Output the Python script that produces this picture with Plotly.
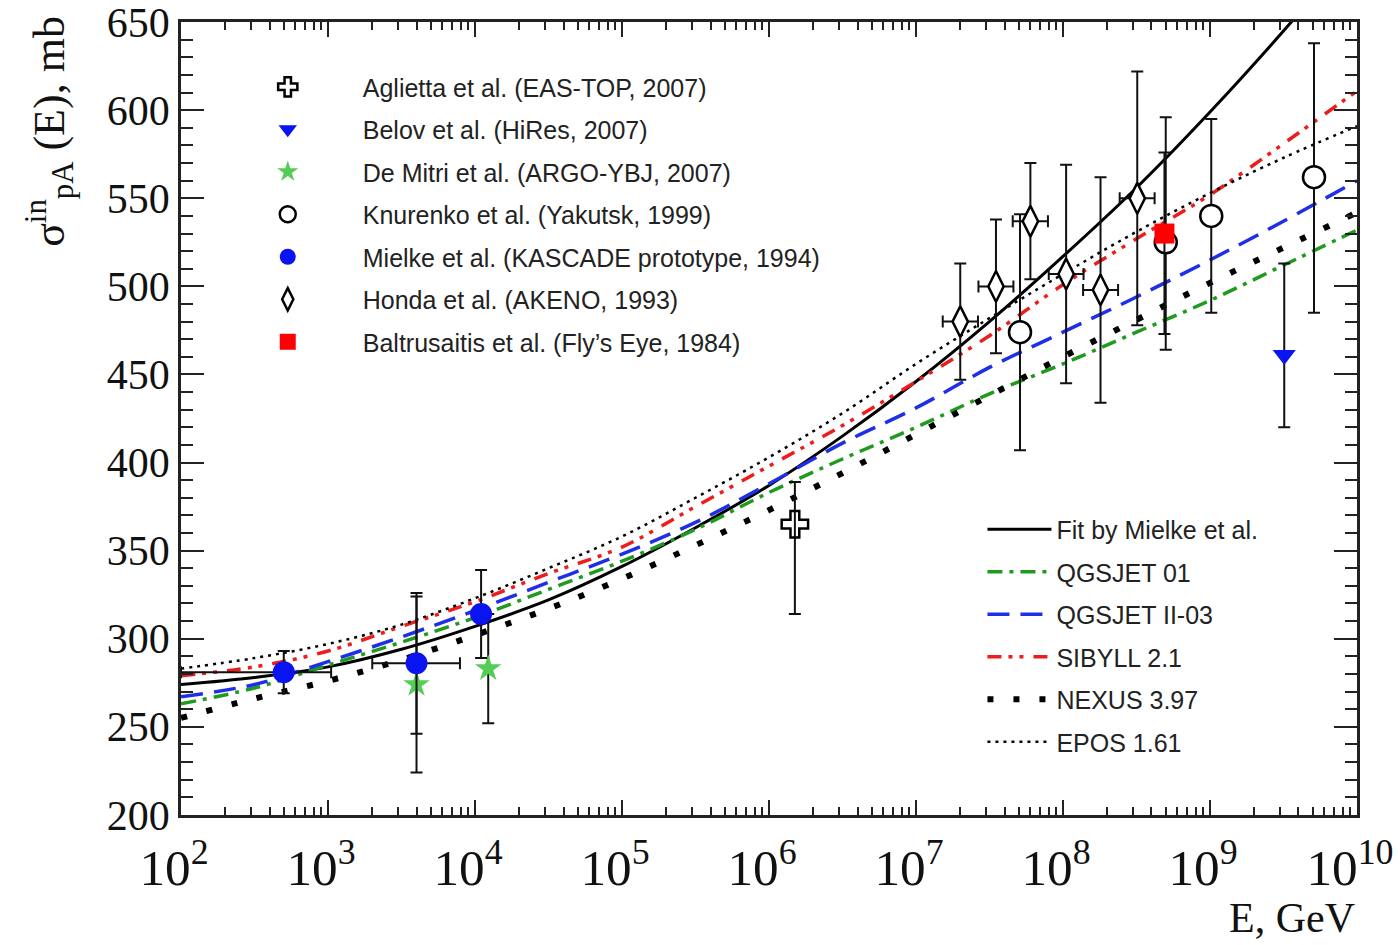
import plotly.graph_objects as go

# ---------------- data ----------------
E_grid = [1e2, 3.16e2, 1e3, 3.16e3, 1e4, 3.16e4, 1e5, 3.16e5, 1e6,
          3.16e6, 1e7, 3.16e7, 1e8, 3.16e8, 1e9, 3.16e9, 1e10]
fit_mielke = [274, 278, 284, 294, 307, 322, 341, 363, 387, 415, 446, 480, 517, 556, 599, 645, 694]
qgsjet01   = [263, 272, 285, 298, 312, 328, 344, 362, 383, 402, 420, 439, 456, 474, 492, 512, 532]
qgsjetII   = [267, 274, 287, 301, 316, 332, 348, 366, 388, 411, 431, 454, 474, 494, 515, 537, 560]
sibyll     = [279, 284, 293, 307, 321, 337, 352, 375, 398, 421, 446, 472, 501, 527, 552, 581, 611]
nexus      = [255, 266, 276, 288, 302, 317, 334, 353, 373, 394, 416, 438, 460, 481, 502, 522, 542]
epos       = [283, 289, 297, 308, 323, 340, 358, 380, 403, 428, 456, 482, 507, 531, 553, 573, 591]

# Aglietta et al. (EAS-TOP, 2007)
eastop_E = [1.5e6]
eastop_s = [365]
eastop_up = [24]
eastop_dn = [51]

# Belov et al. (HiRes, 2007)
hires_E = [3.2e9]
hires_s = [461]
hires_up = [52]
hires_dn = [41]

# De Mitri et al. (ARGO-YBJ, 2007)
argo_E = [4.0e3, 1.23e4]
argo_s = [274, 283]
argo_up = [50, 31]
argo_dn = [50, 31]

# Knurenko et al. (Yakutsk, 1999)
yak_E = [5.1e7, 5.0e8, 1.02e9, 5.1e9]
yak_s = [474, 525, 540, 562]
yak_up = [67, 71, 55, 76]
yak_dn = [67, 61, 55, 77]

# Mielke et al. (KASCADE prototype, 1994)
kas_E = [5.0e2, 4.0e3, 1.1e4]
kas_s = [281, 286, 314]
kas_up = [12, 40, 25]
kas_dn = [12, 40, 25]
kas_Eup = [550, 3900, 0]
kas_Edn = [400, 2000, 0]

# Honda et al. (AKENO, 1993)
akeno_E = [2.0e7, 3.5e7, 6.0e7, 1.05e8, 1.8e8, 3.2e8]
akeno_s = [480, 500, 537, 507, 498, 550]
akeno_err = [33, 38, 33, 62, 64, 72]
akeno_Eup = [6.4e6, 1.1e7, 1.9e7, 3.3e7, 5.7e7, 1.0e8]
akeno_Edn = [4.8e6, 8.4e6, 1.45e7, 2.5e7, 4.3e7, 7.7e7]

# Baltrusaitis et al. (Fly's Eye, 1984)
fly_E = [4.9e8]
fly_s = [530]
fly_up = [46]
fly_dn = [57]

# axis ranges / ticks
x_range_log = [1.9999, 10.0001]
y_range = [199.9, 650.1]
y_tick_step = 50

# ---------------- figure ----------------
fig = go.Figure()

curves = [
    ("Fit by Mielke et al.", fit_mielke, "#000000", "solid", 3),
    ("QGSJET 01", qgsjet01, "#1e9a1e", "15px,7px,4px,7px", 3.5),
    ("QGSJET II-03", qgsjetII, "#1f2fe8", "22px,11px", 3.5),
    ("SIBYLL 2.1", sibyll, "#ee1c1c", "14px,7px,4px,7px,4px,10px", 3.5),
    ("NEXUS 3.97", nexus, "#000000", "6px,20px", 6),
    ("EPOS 1.61", epos, "#000000", "3px,5px", 2.5),
]
for name, ys, col, dash, w in curves:
    fig.add_trace(go.Scatter(
        x=E_grid, y=ys, mode="lines", name=name, legend="legend2",
        legendgroup=name, line=dict(color=col, dash=dash, width=w, shape="spline"),
    ))

ebar = dict(type="data", symmetric=False, color="#111111", thickness=2, width=6)


def add_points(name, E, s, up, dn, symbol, size, color, line_color, line_w,
               Eup=None, Edn=None):
    kw = {}
    if Eup is not None:
        kw["error_x"] = dict(ebar, array=Eup, arrayminus=Edn)
    fig.add_trace(go.Scatter(
        x=E, y=s, mode="markers", name=name, legend="legend", legendgroup=name,
        marker=dict(symbol=symbol, size=size, color=color,
                    line=dict(color=line_color, width=line_w)),
        error_y=dict(ebar, array=up, arrayminus=dn), **kw,
    ))


add_points("Aglietta et al. (EAS-TOP, 2007)", eastop_E, eastop_s, eastop_up, eastop_dn,
           "cross-open", 22, "#000000", "#000000", 2.5)
add_points("Belov et al. (HiRes, 2007)", hires_E, hires_s, hires_up, hires_dn,
           "triangle-down", 20, "#0a14f0", "#0a14f0", 0)
add_points("De Mitri et al. (ARGO-YBJ, 2007)", argo_E, argo_s, argo_up, argo_dn,
           "star", 20, "#55cc55", "#55cc55", 0)
add_points("Knurenko et al. (Yakutsk, 1999)", yak_E, yak_s, yak_up, yak_dn,
           "circle", 22, "#ffffff", "#000000", 2.5)
add_points("Mielke et al. (KASCADE prototype, 1994)", kas_E, kas_s, kas_up, kas_dn,
           "circle", 22, "#0a14f0", "#0a14f0", 0, kas_Eup, kas_Edn)
add_points("Honda et al. (AKENO, 1993)", akeno_E, akeno_s, akeno_err, akeno_err,
           "diamond-tall", 22, "#ffffff", "#000000", 2.5, akeno_Eup, akeno_Edn)
add_points("Baltrusaitis et al. (Fly\u2019s Eye, 1984)", fly_E, fly_s, fly_up, fly_dn,
           "square", 20, "#ff0000", "#ff0000", 0)

serif = "Liberation Serif, Times New Roman, serif"
sans = "Liberation Sans, Arial, sans-serif"
axis_common = dict(showline=True, linewidth=2.5, linecolor="#222222", mirror="ticks",
                   ticks="inside", tickcolor="#222222", tickwidth=2,
                   showgrid=False, zeroline=False, ticklabeloverflow="allow",
                   automargin=False,
                   tickfont=dict(family=serif, size=42, color="#111111"))

fig.update_layout(
    width=1400, height=945,
    margin=dict(l=181, r=43, t=22, b=130, autoexpand=False),
    paper_bgcolor="white", plot_bgcolor="white",
    xaxis=dict(axis_common, type="log", range=x_range_log, dtick=1, exponentformat="power",
               ticklen=15, ticklabelstandoff=8, ticklabelshift=-7,
               tickfont=dict(family=serif, size=41, color="#111111"),
               minor=dict(ticks="inside", ticklen=8, dtick="D1", tickcolor="#222222",
                          tickwidth=1.5, showgrid=False)),
    yaxis=dict(axis_common, range=y_range, tick0=200, dtick=y_tick_step, ticklen=23,
               minor=dict(ticks="inside", ticklen=12, dtick=10, tickcolor="#222222",
                          tickwidth=1.5, showgrid=False)),
    legend=dict(x=0.027, y=0.947, xanchor="left", yanchor="top",
                font=dict(family=sans, size=25, color="#222222"),
                bgcolor="rgba(0,0,0,0)", itemwidth=140, tracegroupgap=7),
    legend2=dict(x=0.6815, y=0.389, xanchor="left", yanchor="top",
                 font=dict(family=sans, size=25, color="#222222"),
                 bgcolor="rgba(0,0,0,0)", itemwidth=64, tracegroupgap=7),
    showlegend=True,
)

fig.add_annotation(text="\u03c3<sup>in</sup><sub>pA</sub> (E), mb", textangle=-90,
                   xref="paper", yref="paper", x=-0.112, y=1.01,
                   xanchor="center", yanchor="top", showarrow=False,
                   font=dict(family=serif, size=44, color="#111111"))
fig.add_annotation(text="E, GeV", xref="paper", yref="paper", x=1.0, y=-0.13,
                   xanchor="right", yanchor="middle", showarrow=False,
                   font=dict(family=serif, size=42, color="#111111"))

fig.write_html("out.html")
